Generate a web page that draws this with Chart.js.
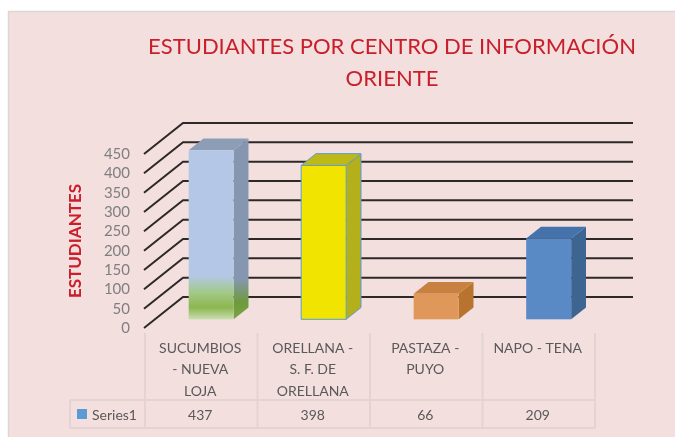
<!DOCTYPE html>
<html>
<head>
<meta charset="utf-8">
<script src="https://cdn.jsdelivr.net/npm/chart.js@4.4.1/dist/chart.umd.min.js"></script>
<style>
  html, body { margin: 0; padding: 0; background: #ffffff; }
</style>
</head>
<body>
<canvas id="chart" width="675" height="437"></canvas>
<script>
// data
const categories = [
  ["SUCUMBIOS", "- NUEVA", "LOJA"],
  ["ORELLANA -", "S. F. DE", "ORELLANA"],
  ["PASTAZA -", "PUYO"],
  ["NAPO - TENA"]
];
const values = [437, 398, 66, 209];
const seriesName = "Series1";
const yMax = 450;
const yStep = 50;
const titleLines = ["ESTUDIANTES POR CENTRO DE INFORMACIÓN", "ORIENTE"];
const axisTitle = "ESTUDIANTES";

// colours of the three visible faces of every box
const frontColors = ["#b4c7e7", "#f0e400", "#df985a", "#5a8ac6"];
const sideColors = ["#8597b0", "#b3b01c", "#b8742f", "#3c6592"];
const topColors = ["#8c9db5", "#bdb917", "#c98140", "#4672ab"];

const RED = "#c8202b";
const GREY = "#7f7f7f";
const TEXT = "#595959";
const BG = "#f4dfdf";
const FONT = "Lato, 'Open Sans', sans-serif";

// depth of the 3d box and where the bars sit inside it
const DX = 39, DY = -31;
const FRONT = 0.28, DEPTH = 0.38;

function poly(ctx, pts, fill) {
  ctx.beginPath();
  ctx.moveTo(pts[0][0], pts[0][1]);
  for (let i = 1; i < pts.length; i++) ctx.lineTo(pts[i][0], pts[i][1]);
  ctx.closePath();
  ctx.fillStyle = fill;
  ctx.fill();
}

const box3d = {
  id: "box3d",
  beforeDraw(chart) {
    const ctx = chart.ctx;
    ctx.save();
    ctx.fillStyle = "#ffffff";
    ctx.fillRect(0, 0, chart.width, chart.height);
    ctx.fillStyle = BG;
    ctx.fillRect(9, 12, chart.width - 9, chart.height - 12);
    ctx.strokeStyle = "#dcd6d6";
    ctx.lineWidth = 1.5;
    ctx.beginPath();
    ctx.moveTo(8.5, chart.height);
    ctx.lineTo(8.5, 11.5);
    ctx.lineTo(chart.width, 11.5);
    ctx.stroke();

    ctx.fillStyle = RED;
    ctx.font = "22px " + FONT;
    ctx.textAlign = "center";
    ctx.textBaseline = "middle";
    ctx.fillText(titleLines[0], 392, 47);
    ctx.fillText(titleLines[1], 392, 79);
    ctx.restore();
  },
  beforeDatasetsDraw(chart) {
    const { ctx, chartArea: a, scales: { y } } = chart;
    ctx.save();
    ctx.strokeStyle = "#2e2828";
    ctx.lineWidth = 2;
    y.ticks.forEach((t) => {
      const py = y.getPixelForValue(t.value);
      ctx.beginPath();
      ctx.moveTo(a.left, py);
      ctx.lineTo(a.left + DX, py + DY);
      ctx.lineTo(a.right + DX, py + DY);
      ctx.stroke();
    });
    ctx.restore();
  },
  afterDatasetsDraw(chart) {
    const ctx = chart.ctx;
    const meta = chart.getDatasetMeta(0);
    ctx.save();
    meta.data.forEach((bar, i) => {
      const w = bar.width;
      const x0 = bar.x - w / 2 + DX * FRONT;
      const x1 = x0 + w;
      const yt = bar.y + DY * FRONT;
      const yb = bar.base + DY * FRONT;
      const dx = DX * DEPTH, dy = DY * DEPTH;

      let side = sideColors[i];
      let front = frontColors[i];
      if (i === 0) {
        side = ctx.createLinearGradient(0, yt, 0, yb);
        side.addColorStop(0, sideColors[0]);
        side.addColorStop(0.76, sideColors[0]);
        side.addColorStop(0.9, "#6f9a3c");
        side.addColorStop(1, "#7aa345");
        front = ctx.createLinearGradient(0, yt, 0, yb);
        front.addColorStop(0, frontColors[0]);
        front.addColorStop(0.74, frontColors[0]);
        front.addColorStop(0.84, "#a3c98a");
        front.addColorStop(0.93, "#8db650");
        front.addColorStop(1, "#c9deb0");
      }
      poly(ctx, [[x1, yt], [x1 + dx, yt + dy], [x1 + dx, yb + dy], [x1, yb]], side);
      poly(ctx, [[x0, yt], [x0 + dx, yt + dy], [x1 + dx, yt + dy], [x1, yt]], topColors[i]);
      ctx.fillStyle = front;
      ctx.fillRect(x0, yt, w, yb - yt);
      if (i === 1) {
        ctx.strokeStyle = "#5b9bd5";
        ctx.lineWidth = 1;
        ctx.beginPath();
        ctx.rect(x0, yt, w, yb - yt);
        ctx.moveTo(x0, yt);
        ctx.lineTo(x0 + dx, yt + dy);
        ctx.lineTo(x1 + dx, yt + dy);
        ctx.lineTo(x1 + dx, yb + dy);
        ctx.lineTo(x1, yb);
        ctx.moveTo(x1, yt);
        ctx.lineTo(x1 + dx, yt + dy);
        ctx.stroke();
      }
    });
    ctx.restore();
  },
  afterDraw(chart) {
    const { ctx, chartArea: a, scales: { x } } = chart;
    const colW = (a.right - a.left) / categories.length;
    const top = 333, mid = 400, bottom = 428, legendLeft = 70;
    ctx.save();
    ctx.strokeStyle = "#e3d3d3";
    ctx.lineWidth = 2;
    ctx.beginPath();
    for (let i = 0; i <= categories.length; i++) {
      const px = a.left + 1 + i * colW;
      ctx.moveTo(px, top);
      ctx.lineTo(px, bottom);
    }
    ctx.moveTo(legendLeft, mid);
    ctx.lineTo(a.right + 1, mid);
    ctx.moveTo(legendLeft, bottom);
    ctx.lineTo(a.right + 1, bottom);
    ctx.moveTo(legendLeft, mid);
    ctx.lineTo(legendLeft, bottom);
    ctx.stroke();

    ctx.fillStyle = TEXT;
    ctx.font = "14px " + FONT;
    ctx.textAlign = "center";
    ctx.textBaseline = "middle";
    categories.forEach((lines, i) => {
      const cx = x.getPixelForValue(i);
      lines.forEach((s, k) => ctx.fillText(s, cx, 348 + k * 21.5));
      ctx.fillText(String(values[i]), cx, 415);
    });
    ctx.fillStyle = "#5b9bd5";
    ctx.fillRect(77, 409, 10, 10);
    ctx.fillStyle = TEXT;
    ctx.textAlign = "left";
    ctx.fillText(seriesName, 92, 415);
    ctx.restore();
  }
};

new Chart(document.getElementById("chart"), {
  type: "bar",
  data: {
    labels: categories,
    datasets: [{
      label: seriesName,
      data: values,
      backgroundColor: "rgba(0,0,0,0)",
      borderWidth: 0,
      categoryPercentage: 1,
      barPercentage: 0.4
    }]
  },
  options: {
    responsive: false,
    devicePixelRatio: 1,
    animation: false,
    layout: { padding: { top: 154, bottom: 109, left: 0, right: 81 } },
    plugins: {
      legend: { display: false },
      title: { display: false },
      tooltip: { enabled: false }
    },
    scales: {
      x: { display: false },
      y: {
        min: 0,
        max: yMax,
        afterFit: (scale) => { scale.width = 144; },
        grid: { display: false, drawTicks: false },
        border: { display: false },
        ticks: {
          stepSize: yStep,
          autoSkip: false,
          padding: 14,
          color: GREY,
          font: { family: FONT, size: 15 }
        },
        title: {
          display: true,
          text: axisTitle,
          color: RED,
          padding: { top: 65 },
          font: { family: FONT, size: 17, weight: "bold" }
        }
      }
    }
  },
  plugins: [box3d]
});
</script>
</body>
</html>
